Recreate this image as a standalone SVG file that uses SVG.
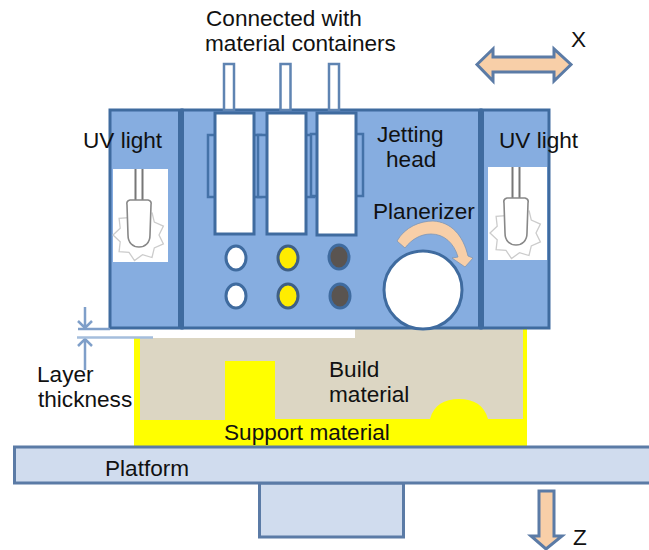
<svg xmlns="http://www.w3.org/2000/svg" width="649" height="550" viewBox="0 0 649 550">
<style>
text{font-family:"Liberation Sans",Arial,sans-serif;font-size:22.600px;fill:#111}
.head{fill:#86ade0;stroke:#3f6b9f;stroke-width:3}
.div{fill:#3f6b9f}
.cart{fill:#fff;stroke:#3f6b9f;stroke-width:3}
.tube{fill:#fff;stroke:#5f84b2;stroke-width:2.5}
.side{fill:#86ade0;stroke:#4472a8;stroke-width:2.5}
.wh{fill:#fff;stroke:#3f6b9f;stroke-width:3}
.ye{fill:#ffec00;stroke:#3f5f85;stroke-width:3}
.da{fill:#5a5450;stroke:#3f6b9f;stroke-width:3}
.plat{fill:#d0dcee;stroke:#5b7ba6;stroke-width:3}
.arr{fill:#f8cfa8;stroke:#5b7ba6;stroke-width:3;stroke-linejoin:miter}
.dim{fill:none;stroke:#7f9fc9;stroke-width:2.5}
.wire{fill:none;stroke:#777;stroke-width:2}
.glow{fill:none;stroke:#ccc;stroke-width:1.3}
.bulb{fill:#fff;stroke:#888;stroke-width:1.6}
</style>
<defs>
<g id="bulb">
<path class="glow" d="M13 9.500L15.300 19.100L24.400 23.100L20 32L24.400 40.900L15.300 44.900L13 54.500L3.500 51.700L-4.500 57.600L-10 49.300L-19.900 48.700L-18.800 38.800L-26 32L-18.800 25.200L-19.900 15.300L-10 14.700"/>
<path class="wire" d="M-3.500 -34V-2M3.500 -34V-2"/>
<path class="bulb" d="M-12 2Q-13 -2 -9 -3H9Q13 -2 12 2L11 32C11 40 6 44 0 44S-11 40 -11 32Z"/>
</g>
</defs>
<g id="build-material">
<path d="M134 338H355V328H527V446H134Z" fill="#ffff00"/>
<path d="M140 338H355V328H523V419H488C484 405 474 399 459 399C444 399 434 405 430 419H275V361H225V420H140Z" fill="#dcd6c3"/>
</g>
<g id="platform">
<rect class="plat" x="259.500" y="483" width="144" height="54"/>
<rect class="plat" x="14.500" y="447" width="640" height="36"/>
</g>
<g id="left-uv">
<rect class="head" x="110" y="110" width="72" height="218"/>
<rect x="113" y="169" width="55" height="93" fill="#fff"/>
<use href="#bulb" x="139" y="203"/>
</g>
<g id="right-uv">
<rect class="head" x="481" y="110" width="68" height="218"/>
<rect x="488" y="167" width="59" height="93" fill="#fff"/>
<use href="#bulb" x="516" y="201"/>
</g>
<g id="jetting-head">
<rect class="head" x="182" y="110" width="299" height="218"/>
<rect class="div" x="178" y="110" width="6" height="218"/>
<rect class="div" x="478" y="110" width="6" height="218"/>
<rect class="tube" x="224" y="64" width="10" height="46"/>
<rect class="tube" x="280.500" y="64" width="10" height="46"/>
<rect class="tube" x="329" y="64" width="10" height="46"/>
<rect class="side" x="208" y="135" width="10" height="62"/>
<rect class="side" x="251" y="135" width="10" height="62"/>
<rect class="side" x="258" y="135" width="11" height="62"/>
<rect class="side" x="304" y="135" width="10" height="62"/>
<rect class="side" x="311" y="134" width="10" height="62"/>
<rect class="side" x="353" y="134" width="10" height="62"/>
<rect class="cart" x="215" y="113" width="39" height="121"/>
<rect class="cart" x="267" y="113" width="39" height="121"/>
<rect class="cart" x="317" y="113" width="39" height="122"/>
<ellipse class="wh" cx="236" cy="258" rx="10" ry="12"/>
<ellipse class="wh" cx="236" cy="296" rx="10" ry="12"/>
<ellipse class="ye" cx="288" cy="258" rx="10" ry="12"/>
<ellipse class="ye" cx="288" cy="296" rx="10" ry="12"/>
<ellipse class="da" cx="339" cy="257" rx="10" ry="12"/>
<ellipse class="da" cx="340" cy="296" rx="10" ry="12"/>
</g>
<g id="planerizer">
<circle cx="423" cy="290" r="39" fill="#fff" stroke="#3f6b9f" stroke-width="3"/>
<path d="M397 241C405 227 420 221 433 221C451 222 463 235 468 256L473 258L465 267L452 258L458 257C454 243 444 234 431 234C420 234 411 240 405 248Z" fill="#f8cfa8" stroke="#7d95b5" stroke-width="0.800"/>
</g>
<g id="connectors">
<path class="arr" d="M477 64.500L493 49V57H554V49L571 64.500L554 81V72H493V81Z"/>
<path class="arr" d="M539 491H554V536H562L546 549L531 536H539Z"/>
<path class="dim" d="M85 307V328M78 321L85 328L92 321M85 370V339M78 346L85 339L92 346"/>
<path class="dim" d="M78 329H110"/>
<path d="M77 337.500H153" fill="none" stroke="#a5bedd" stroke-width="2.500"/>
</g>
<g id="labels">
<text x="206" y="26">Connected with</text>
<text x="205" y="51">material containers</text>
<text x="571" y="47">X</text>
<text x="83" y="148">UV light</text>
<text x="499" y="148">UV light</text>
<text x="377" y="142">Jetting</text>
<text x="386" y="167">head</text>
<text x="373" y="219">Planerizer</text>
<text x="37" y="382">Layer</text>
<text x="38" y="407">thickness</text>
<text x="329" y="377">Build</text>
<text x="329" y="402">material</text>
<text x="224" y="440">Support material</text>
<text x="105" y="476">Platform</text>
<text x="573" y="545">Z</text>
</g>
</svg>
